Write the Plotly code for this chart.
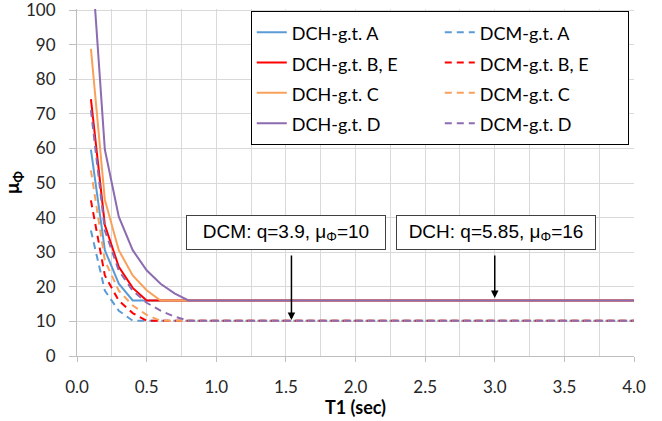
import plotly.graph_objects as go

# Period T1 (sec)
T1 = [0.1, 0.2, 0.3, 0.4, 0.5, 0.6, 0.7, 0.8, 4.0]

# DCH curves (mu_phi)
dch_A = [59.7, 30.6, 20.9, 16.05, 16.05, 16.05, 16.05, 16.05, 16.05]
dch_BE = [74.3, 37.9, 25.8, 19.7, 16.05, 16.05, 16.05, 16.05, 16.05]
dch_C = [88.8, 45.2, 30.6, 23.3, 19.0, 16.05, 16.05, 16.05, 16.05]
dch_D = [117.9, 59.7, 40.3, 30.6, 24.8, 20.9, 18.1, 16.05, 16.05]

# DCM curves (mu_phi)
dcm_A = [36.3, 18.9, 13.1, 10.2, 10.2, 10.2, 10.2, 10.2, 10.2]
dcm_BE = [45.0, 23.3, 16.0, 12.4, 10.2, 10.2, 10.2, 10.2, 10.2]
dcm_C = [53.7, 27.6, 18.9, 14.6, 11.9, 10.2, 10.2, 10.2, 10.2]
dcm_D = [71.1, 36.3, 24.7, 18.9, 15.4, 13.1, 11.4, 10.2, 10.2]

DASH = "7px,5px"
series = [
    ("DCH-g.t. A", dch_A, "#5B9BD5", "solid"),
    ("DCM-g.t. A", dcm_A, "#5B9BD5", DASH),
    ("DCH-g.t. B, E", dch_BE, "#FF0000", "solid"),
    ("DCM-g.t. B, E", dcm_BE, "#FF0000", DASH),
    ("DCH-g.t. C", dch_C, "#F9A15A", "solid"),
    ("DCM-g.t. C", dcm_C, "#F9A15A", DASH),
    ("DCH-g.t. D", dch_D, "#8C6BB1", "solid"),
    ("DCM-g.t. D", dcm_D, "#8C6BB1", DASH),
]

x_ticks = [0.0, 0.5, 1.0, 1.5, 2.0, 2.5, 3.0, 3.5, 4.0]
x_tick_labels = ["0.0", "0.5", "1.0", "1.5", "2.0", "2.5", "3.0", "3.5", "4.0"]
y_ticks = [0, 10, 20, 30, 40, 50, 60, 70, 80, 90, 100]

fig = go.Figure()
for name, vals, color, dash in series:
    fig.add_trace(go.Scatter(
        x=T1, y=vals, mode="lines",
        name='<span style="font-size:18px">' + name + '</span>',
        line=dict(color=color, width=2, dash=dash),
    ))

FONT = "Lato"
fig.update_layout(
    width=662, height=421,
    margin=dict(l=77, r=28, t=9, b=65),
    plot_bgcolor="white", paper_bgcolor="white",
    font=dict(family=FONT, size=17, color="#262626"),
    legend=dict(
        orientation="h", x=0.312, y=0.994, xanchor="left", yanchor="top",
        entrywidth=143, bordercolor="#000000", borderwidth=1, bgcolor="white",
        font=dict(family=FONT, size=21, color="#000000"),
        traceorder="normal",
    ),
    xaxis=dict(
        range=[0, 4], tickvals=x_ticks, ticktext=x_tick_labels,
        showgrid=True, gridcolor="#d9d9d9", gridwidth=1,
        minor=dict(dtick=0.25, showgrid=True, gridcolor="#d9d9d9", gridwidth=1),
        showline=True, linecolor="#bfbfbf", linewidth=1,
        ticks="outside", ticklen=5, tickcolor="#bfbfbf", ticklabelstandoff=11,
        zeroline=False, automargin=False, ticklabeloverflow="allow",
    ),
    yaxis=dict(
        range=[0, 100.35], tickvals=y_ticks,
        showgrid=True, gridcolor="#d9d9d9", gridwidth=1,
        showline=True, linecolor="#bfbfbf", linewidth=1,
        ticks="outside", ticklen=7, tickcolor="#bfbfbf", ticklabelstandoff=10,
        zeroline=False, automargin=False, ticklabeloverflow="allow",
        title=dict(text="<b>μ<sub>Φ</sub></b>", font=dict(family=FONT, size=19, color="#000000"), standoff=2),
    ),
)

# x-axis title as a paper-positioned text
fig.add_annotation(x=0.5, y=-0.146, xref="paper", yref="paper", showarrow=False,
                   text="<b>T1 (sec)</b>", font=dict(family=FONT, size=18, color="#000000"),
                   xanchor="center", yanchor="middle")

ann_font = dict(family="Liberation Sans", size=19, color="#000000")
fig.add_annotation(x=1.5, y=35.7, xref="x", yref="y", showarrow=False,
                   text="DCM: q=3.9, μ<sub>Φ</sub>=10", font=ann_font,
                   bgcolor="white", bordercolor="#404040", borderwidth=1,
                   width=192, height=27, borderpad=3)
fig.add_annotation(x=3.01, y=35.7, xref="x", yref="y", showarrow=False,
                   text="DCH: q=5.85, μ<sub>Φ</sub>=16", font=ann_font,
                   bgcolor="white", bordercolor="#404040", borderwidth=1,
                   width=192, height=27, borderpad=3)
fig.add_annotation(x=1.54, y=10.4, xref="x", yref="y", axref="x", ayref="y",
                   ax=1.54, ay=29.5, text="", showarrow=True,
                   arrowhead=2, arrowsize=1, arrowwidth=1.5, arrowcolor="#000000")
fig.add_annotation(x=3.0, y=16.8, xref="x", yref="y", axref="x", ayref="y",
                   ax=3.0, ay=29.5, text="", showarrow=True,
                   arrowhead=2, arrowsize=1, arrowwidth=1.5, arrowcolor="#000000")

fig.write_html("out.html", post_script="document.body.style.margin='0';",
               config={"displayModeBar": False})
